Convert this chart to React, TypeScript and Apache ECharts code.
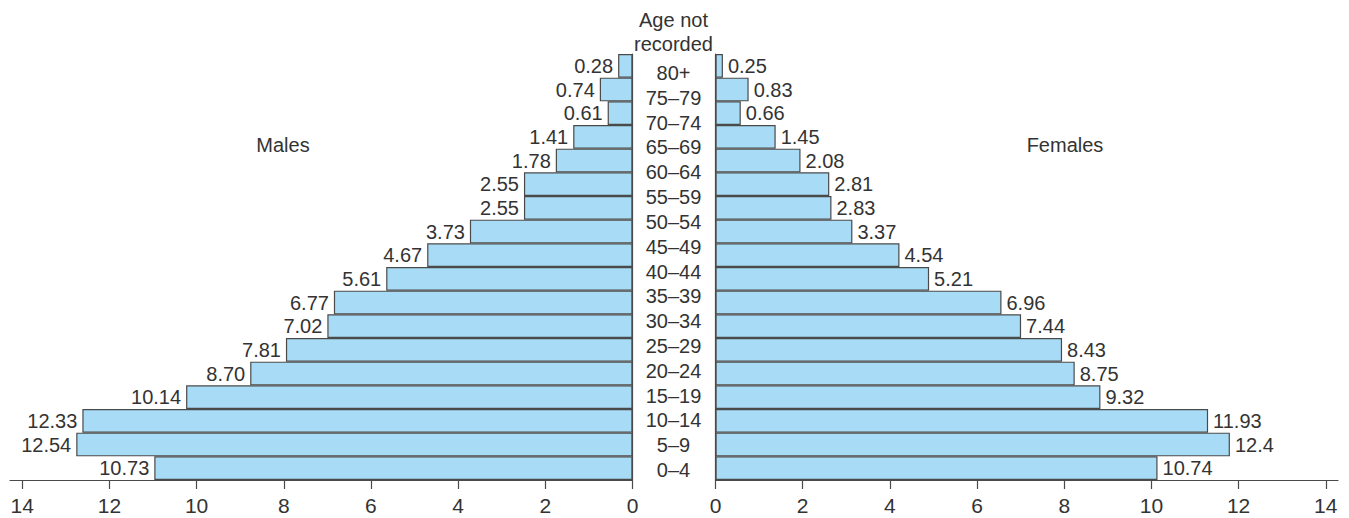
import React, { useEffect, useRef } from "react";
import * as echarts from "echarts";

// Categories, bottom to top
const ageGroups = [
  "0–4", "5–9", "10–14", "15–19", "20–24", "25–29", "30–34", "35–39", "40–44",
  "45–49", "50–54", "55–59", "60–64", "65–69", "70–74", "75–79", "80+",
];
const notRecorded = "Age not recorded";
const categories = [...ageGroups, notRecorded];

// Bar lengths as drawn
const maleBars = [10.97, 12.76, 12.62, 10.24, 8.77, 7.95, 7.0, 6.85, 5.65, 4.71, 3.73, 2.49, 2.49, 1.76, 1.36, 0.57, 0.75, 0.33];
const femaleBars = [10.14, 11.8, 11.3, 8.83, 8.24, 7.95, 7.01, 6.56, 4.9, 4.22, 3.14, 2.66, 2.61, 1.95, 1.38, 0.58, 0.76, 0.17];

// Printed value labels
const maleLabels = ["10.73", "12.54", "12.33", "10.14", "8.70", "7.81", "7.02", "6.77", "5.61", "4.67", "3.73", "2.55", "2.55", "1.78", "1.41", "0.61", "0.74", "0.28"];
const femaleLabels = ["10.74", "12.4", "11.93", "9.32", "8.75", "8.43", "7.44", "6.96", "5.21", "4.54", "3.37", "2.83", "2.81", "2.08", "1.45", "0.66", "0.83", "0.25"];

const tickValues = [0, 2, 4, 6, 8, 10, 12, 14];
const axisMax = 14.28;

const FONT = "'Liberation Sans', Arial, Helvetica, sans-serif";
const TEXT = "#333333";
const LINE = "#4a4a4a";
const FILL = "#a8dcf6";

export default function App() {
  const ref = useRef<HTMLDivElement>(null);
  useEffect(() => {
    if (!ref.current) return;
    const chart = echarts.init(ref.current, undefined, { renderer: "svg" });
    const xAxisCommon = (inverse: boolean) => ({
      type: "value",
      min: 0,
      max: axisMax,
      inverse,
      splitLine: { show: false },
      axisLine: { show: true, lineStyle: { color: LINE, width: 1.2 } },
      axisTick: { show: true, length: 9, lineStyle: { color: LINE, width: 1.2 }, customValues: tickValues },
      axisLabel: { color: TEXT, fontSize: 21, fontFamily: FONT, margin: 15, customValues: tickValues },
    });
    const barLabel = (labels: string[], pos: string) => ({
      show: true,
      position: pos,
      distance: 5,
      color: TEXT,
      fontSize: 20,
      fontFamily: FONT,
      formatter: (p: any) => labels[p.dataIndex],
    });
    chart.setOption({
      animation: false,
      grid: [
        { left: 10, width: 622.5, top: 54, bottom: 38 },
        { left: 715.5, width: 622.5, top: 54, bottom: 38 },
        { left: 673.5, width: 1, top: 60.6, bottom: 35.6 },
      ],
      xAxis: [
        { gridIndex: 0, ...xAxisCommon(true) },
        { gridIndex: 1, ...xAxisCommon(false) },
        { gridIndex: 2, type: "value", show: false },
      ],
      yAxis: [
        {
          gridIndex: 0, type: "category", data: categories, position: "right",
          axisLine: { show: true, onZero: false, lineStyle: { color: LINE, width: 1.2 } },
          axisTick: { show: false }, axisLabel: { show: false },
        },
        {
          gridIndex: 1, type: "category", data: categories, position: "left",
          axisLine: { show: true, onZero: false, lineStyle: { color: LINE, width: 1.2 } },
          axisTick: { show: false }, axisLabel: { show: false },
        },
        {
          gridIndex: 2, type: "category", data: ageGroups, position: "left",
          axisLine: { show: false }, axisTick: { show: false },
          axisLabel: { color: TEXT, fontSize: 20, fontFamily: FONT, margin: 0, align: "center", interval: 0 },
          name: notRecorded.replace(" not ", " not\n"),
          nameLocation: "end",
          nameGap: 4,
          nameTextStyle: { color: TEXT, fontSize: 20, fontFamily: FONT, lineHeight: 24.5, align: "center", verticalAlign: "bottom" },
        },
      ],
      graphic: [
        { type: "text", x: 283, y: 145, style: { text: "Males", fill: TEXT, font: `20px ${FONT}`, align: "center", verticalAlign: "middle" } },
        { type: "text", x: 1065, y: 145, style: { text: "Females", fill: TEXT, font: `20px ${FONT}`, align: "center", verticalAlign: "middle" } },
      ],
      series: [
        {
          name: "Males", type: "bar", xAxisIndex: 0, yAxisIndex: 0, data: maleBars,
          barCategoryGap: "0%",
          itemStyle: { color: FILL, borderColor: LINE, borderWidth: 1.2 },
          label: barLabel(maleLabels, "left"),
        },
        {
          name: "Females", type: "bar", xAxisIndex: 1, yAxisIndex: 1, data: femaleBars,
          barCategoryGap: "0%",
          itemStyle: { color: FILL, borderColor: LINE, borderWidth: 1.2 },
          label: barLabel(femaleLabels, "right"),
        },
      ],
    });
    return () => chart.dispose();
  }, []);
  return <div ref={ref} style={{ position: "absolute", left: 0, top: 0, width: 1349, height: 518 }} />;
}
